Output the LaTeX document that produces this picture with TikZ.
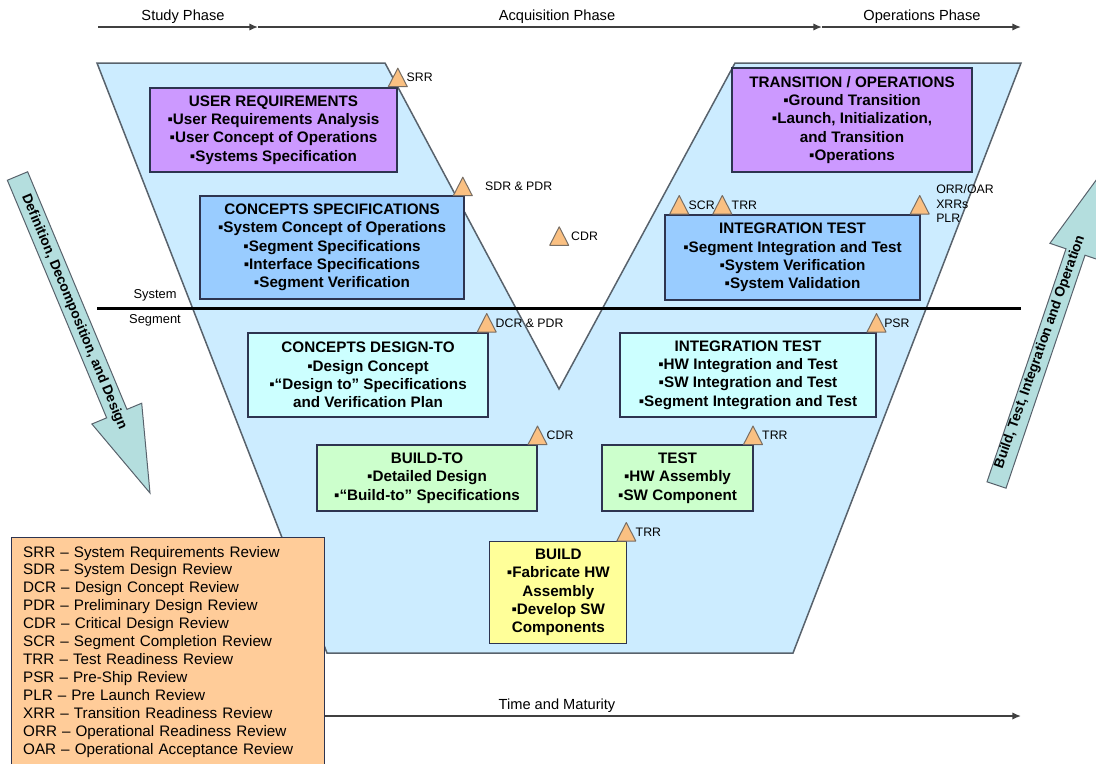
\documentclass[tikz,border=0pt]{standalone}
\usepackage{fontspec}
\setmainfont{Liberation Sans}
\usetikzlibrary{arrows.meta}

\definecolor{vfill}{RGB}{204,236,255}
\definecolor{vline}{RGB}{88,98,108}
\definecolor{boxline}{RGB}{45,52,80}
\definecolor{reqpurple}{RGB}{204,153,255}
\definecolor{specblue}{RGB}{153,204,255}
\definecolor{designcyan}{RGB}{204,255,255}
\definecolor{buildgreen}{RGB}{204,255,204}
\definecolor{buildyellow}{RGB}{255,255,153}
\definecolor{legendorange}{RGB}{255,204,153}
\definecolor{mstone}{RGB}{250,192,130}
\definecolor{mline}{RGB}{120,110,100}
\definecolor{flowteal}{RGB}{180,222,222}

\newlength\pxu
\setlength\pxu{0.3mm}

\tikzset{
  stage/.style={draw=boxline, line width=0.4mm, align=center, inner sep=0pt,
    font=\fontsize{13}{15.7}\selectfont\bfseries},
  boxsize/.style 2 args={minimum width=#1*\pxu, minimum height=#2*\pxu},
  mlabel/.style={inner sep=0pt, font=\fontsize{10.5}{12.4}\selectfont},
  phaselabel/.style={inner sep=0pt, font=\fontsize{12.5}{15}\selectfont},
  levellabel/.style={inner sep=0pt, font=\fontsize{11}{13}\selectfont},
  flowarrow/.style={fill=flowteal, draw=vline, line width=0.3mm, line join=miter},
  flowtext/.style={inner sep=0pt, font=\fontsize{11.8}{13}\selectfont\bfseries},
  timeline/.style={draw=black!75, line width=0.45mm, -{Latex[length=2.6mm,width=2.2mm]}},
  milestone/.pic={\draw[fill=mstone, draw=mline, line width=0.3mm, line join=round]
    (-9.5,0) -- (9.5,0) -- (0,-18.5) -- cycle;}
}

\begin{document}
\begin{tikzpicture}[x=0.3mm, y=-0.3mm]
\useasboundingbox (0,0) rectangle (1096,763);

% ---------- phase arrows along the top ----------
\coordinate (ph0) at (98,27);
\coordinate (ph1) at (258,27);
\coordinate (ph2) at (822,27);
\coordinate (ph3) at (1021,27);
\draw[timeline] (ph0) -- (ph1);
\draw[timeline] (ph1) -- (ph2);
\draw[timeline] (ph2) -- (ph3);
\node[phaselabel] (study) at (183,17) {Study Phase};
\node[phaselabel] (acq) at (557,17) {Acquisition Phase};
\node[phaselabel] (ops) at (922,17) {Operations Phase};

% ---------- the V ----------
\draw[fill=vfill, draw=vline, line width=0.45mm, line join=miter]
  (97,63) -- (385,63) -- (559,389) -- (735,63) -- (1021,63) -- (793,653) -- (327,653) -- cycle;

% system / segment divider
\coordinate (divL) at (97,308);
\coordinate (divR) at (1021,308);
\draw[line width=0.9mm, black] (divL) -- (divR);
\node[levellabel] (syslbl) at (155,295) {System};
\node[levellabel] (seglbl) at (155,320) {Segment};

% ---------- stages on the left arm ----------
\node[stage, fill=reqpurple, boxsize={247}{84}] (userreq) at (273.5,130)
  {USER REQUIREMENTS\\▪User Requirements Analysis\\▪User Concept of Operations\\▪Systems Specification};
\node[stage, fill=specblue, boxsize={264}{103}] (conspec) at (332,247.5)
  {CONCEPTS SPECIFICATIONS\\▪System Concept of Operations\\▪Segment Specifications\\▪Interface Specifications\\▪Segment Verification};
\node[stage, fill=designcyan, boxsize={240}{84}] (designto) at (368,375)
  {CONCEPTS DESIGN-TO\\▪Design Concept\\▪“Design to” Specifications\\and Verification Plan};
\node[stage, fill=buildgreen, boxsize={220}{66}] (buildto) at (427,478)
  {BUILD-TO\\▪Detailed Design\\▪“Build-to” Specifications};

% ---------- bottom ----------
\node[stage, fill=buildyellow, boxsize={137}{102}] (build) at (558.3,592.5)
  {BUILD\\▪Fabricate HW\\Assembly\\▪Develop SW\\Components};

% ---------- stages on the right arm ----------
\node[stage, fill=buildgreen, boxsize={151}{66}] (test) at (677.5,478)
  {TEST\\▪HW Assembly\\▪SW Component};
\node[stage, fill=designcyan, boxsize={256}{84}] (segint) at (748,375)
  {INTEGRATION TEST\\▪HW Integration and Test\\▪SW Integration and Test\\▪Segment Integration and Test};
\node[stage, fill=specblue, boxsize={255}{85}] (sysint) at (792.5,257.5)
  {INTEGRATION TEST\\▪Segment Integration and Test\\▪System Verification\\▪System Validation};
\node[stage, fill=reqpurple, boxsize={240}{104}] (transops) at (852,120)
  {TRANSITION / OPERATIONS\\▪Ground Transition\\▪Launch, Initialization,\\and Transition\\▪Operations};

% ---------- review milestones ----------
\pic (srr) at (397.8,86.7) {milestone};
\node[mlabel, anchor=west] (srrlbl) at (406.5,77) {SRR};
\pic (sdr) at (462.8,195.7) {milestone};
\node[mlabel, anchor=west] (sdrlbl) at (485,186.5) {SDR \& PDR};
\pic (cdrsys) at (559.2,245.3) {milestone};
\node[mlabel, anchor=west] (cdrsyslbl) at (571,236.5) {CDR};
\pic (scr) at (679.2,214) {milestone};
\node[mlabel, anchor=west] (scrlbl) at (688.5,205) {SCR};
\pic (trrsys) at (722.3,214) {milestone};
\node[mlabel, anchor=west] (trrsyslbl) at (731.5,205) {TRR};
\pic (orr) at (919.7,214) {milestone};
\node[mlabel, anchor=north west, align=left, font=\fontsize{10.5}{14.4\pxu}\selectfont] (orrlbl) at (936,184.5) {ORR/OAR\\XRRs\\PLR};
\pic (dcr) at (486.7,332) {milestone};
\node[mlabel, anchor=west] (dcrlbl) at (495.5,323) {DCR \& PDR};
\pic (psr) at (876.5,332) {milestone};
\node[mlabel, anchor=west] (psrlbl) at (884,323) {PSR};
\pic (cdrseg) at (537.5,444.5) {milestone};
\node[mlabel, anchor=west] (cdrseglbl) at (546.5,435) {CDR};
\pic (trrtest) at (753,444.5) {milestone};
\node[mlabel, anchor=west] (trrtestlbl) at (762,435) {TRR};
\pic (trrbuild) at (626.3,541) {milestone};
\node[mlabel, anchor=west] (trrbuildlbl) at (635.5,532) {TRR};

% ---------- decomposition and integration block arrows ----------
\draw[flowarrow] (7.35,180.25) -- (106.65,417.85) -- (91.9,424) -- (150,493)
  -- (141.7,403.2) -- (126.95,409.35) -- (27.65,171.75) -- cycle;
\node[flowtext, rotate=-67.3] (decomp) at (74,312) {Definition, Decomposition, and Design};

\draw[flowarrow] (987,481.8) -- (1066,248.8) -- (1049.9,243.3) -- (1103.1,170.6)
  -- (1101.1,260.7) -- (1085,255.2) -- (1006,488.2) -- cycle;
\node[flowtext, rotate=70.5] (integ) at (1040,352) {Build, Test, Integration and Operation};

% ---------- time axis ----------
\coordinate (t0) at (300,716);
\coordinate (t1) at (1021,716);
\draw[timeline] (t0) -- (t1);
\node[phaselabel] (timelbl) at (557,706) {Time and Maturity};

% ---------- glossary ----------
\node[draw=boxline, line width=0.4mm, fill=legendorange, anchor=north west,
      boxsize={313}{228}, text width=290*\pxu, align=left, inner sep=0pt,
      font=\fontsize{13}{15.3}\selectfont] (legend) at (11,537)
  {SRR – System Requirements Review\\
   SDR – System Design Review\\
   DCR – Design Concept Review\\
   PDR – Preliminary Design Review\\
   CDR – Critical Design Review\\
   SCR – Segment Completion Review\\
   TRR – Test Readiness Review\\
   PSR – Pre-Ship Review\\
   PLR – Pre Launch Review\\
   XRR – Transition Readiness Review\\
   ORR – Operational Readiness Review\\
   OAR – Operational Acceptance Review};
\end{tikzpicture}
\end{document}
